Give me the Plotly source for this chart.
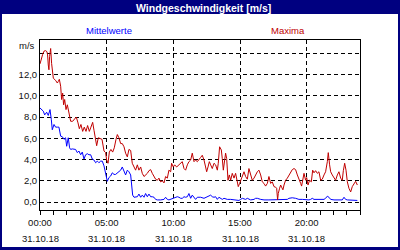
import pandas as pd
import plotly.graph_objects as go

DAY = "2018-10-31"
TITLE = "Windgeschwindigkeit [m/s]"
SERIES_NAMES = ["Mittelwerte", "Maxima"]
Y_TICKS = [0, 2, 4, 6, 8, 10, 12, 14]
Y_TICK_LABELS = ["0,0", "2,0", "4,0", "6,0", "8,0", "10,0", "12,0", ""]
X_TICK_HOURS = [0, 5, 10, 15, 20]
X_DATE_LABEL = "31.10.18"

# Maxima (red): hours since midnight, m/s
max_hours = [0.00, 0.10, 0.20, 0.30, 0.42, 0.52, 0.57, 0.62, 0.67, 0.72, 0.80, 0.87, 0.92, 1.00, 1.17, 1.30,
             1.37, 1.45, 1.55, 1.62, 1.70, 1.77, 1.85, 1.95, 2.05, 2.12, 2.22, 2.30, 2.45, 2.57, 2.72, 2.85,
             2.95, 3.07, 3.20, 3.32, 3.45, 3.57, 3.70, 3.82, 3.95, 4.05, 4.15, 4.25, 4.37, 4.50, 4.65, 4.80,
             4.92, 5.00, 5.10, 5.20, 5.32, 5.45, 5.57, 5.70, 5.80, 5.92, 6.05, 6.17, 6.30, 6.42, 6.55, 6.67,
             6.80, 6.92, 7.05, 7.17, 7.30, 7.42, 7.55, 7.67, 7.80, 7.92, 8.05, 8.17, 8.30, 8.42, 8.55, 8.67,
             8.80, 8.92, 9.05, 9.17, 9.30, 9.42, 9.55, 9.67, 9.80, 9.87, 10.00, 10.10, 10.25, 10.42, 10.55, 10.67,
             10.80, 10.92, 11.05, 11.17, 11.30, 11.42, 11.55, 11.67, 11.80, 11.92, 12.05, 12.17, 12.30, 12.42, 12.50, 12.60,
             12.70, 12.80, 12.92, 13.05, 13.17, 13.30, 13.37, 13.47, 13.60, 13.67, 13.75, 13.85, 13.92, 14.00, 14.10, 14.20,
             14.30, 14.42, 14.55, 14.67, 14.80, 14.87, 14.97, 15.05, 15.17, 15.30, 15.42, 15.55, 15.67, 15.80, 15.92, 16.05,
             16.17, 16.30, 16.42, 16.55, 16.67, 16.80, 16.92, 17.05, 17.17, 17.30, 17.42, 17.55, 17.67, 17.75, 17.82, 17.87,
             17.97, 18.05, 18.12, 18.22, 18.30, 18.42, 18.55, 18.67, 18.80, 18.92, 19.05, 19.17, 19.30, 19.42, 19.55, 19.62,
             19.72, 19.80, 19.92, 20.00, 20.10, 20.22, 20.35, 20.45, 20.55, 20.67, 20.80, 20.92, 21.05, 21.17, 21.30, 21.42,
             21.55, 21.62, 21.72, 21.80, 21.92, 22.05, 22.17, 22.30, 22.42, 22.55, 22.67, 22.75, 22.85, 22.95, 23.05, 23.17,
             23.30, 23.42, 23.55, 23.67, 23.80]
max_values = [13.0, 13.5, 13.9, 14.2, 14.25, 14.15, 13.85, 12.9, 12.45, 13.7, 14.45, 13.05, 12.1, 11.65, 11.45, 11.2,
              11.35, 11.55, 10.9, 9.65, 10.25, 9.15, 9.65, 8.7, 9.15, 8.7, 8.05, 7.6, 7.6, 7.8, 8.0, 7.45,
              6.9, 7.3, 6.65, 7.05, 6.65, 7.2, 6.65, 7.05, 7.5, 6.75, 5.9, 5.3, 6.05, 5.95, 5.9, 4.8,
              4.65, 3.95, 3.65, 4.7, 4.95, 4.7, 5.1, 5.9, 6.35, 6.05, 5.5, 5.5, 5.2, 4.6, 4.25, 4.95,
              4.85, 3.65, 3.3, 3.0, 3.5, 3.0, 3.3, 2.7, 2.4, 2.55, 2.7, 2.95, 3.05, 2.7, 2.4, 2.15,
              2.05, 2.25, 1.9, 2.0, 1.8, 2.4, 2.25, 3.0, 2.85, 3.65, 3.3, 3.5, 3.3, 3.5, 3.65, 3.8,
              3.15, 3.0, 3.5, 3.8, 3.95, 4.6, 3.8, 3.95, 3.8, 3.95, 4.2, 4.4, 3.95, 3.3, 2.85, 3.3,
              3.8, 3.5, 3.15, 3.65, 3.5, 3.0, 3.65, 5.2, 4.9, 4.1, 3.0, 3.95, 4.6, 4.1, 2.05, 2.55,
              2.05, 2.7, 2.25, 2.7, 1.9, 1.45, 1.75, 2.05, 2.55, 2.85, 2.4, 2.15, 3.15, 2.55, 2.05, 2.25,
              2.55, 2.85, 3.0, 2.55, 1.9, 1.75, 1.5, 1.75, 2.4, 1.75, 1.9, 1.45, 1.4, 1.3, 0.2, 0.8,
              1.3, 1.6, 1.4, 1.15, 1.6, 2.05, 2.25, 2.55, 2.85, 3.05, 3.15, 3.05, 2.55, 2.05, 1.75, 1.5,
              2.25, 2.7, 2.05, 2.3, 1.6, 2.05, 1.9, 3.0, 2.75, 2.95, 2.7, 2.85, 2.05, 2.15, 2.55, 2.85,
              3.8, 4.65, 3.5, 2.85, 2.55, 2.25, 2.05, 2.55, 2.85, 2.25, 2.05, 2.95, 3.65, 3.0, 1.9, 1.3,
              0.95, 1.45, 1.75, 1.95, 1.6]

# Mittelwerte (blue): hours since midnight, m/s
mean_hours = [0.00, 0.10, 0.25, 0.35, 0.50, 0.62, 0.75, 0.85, 0.92, 1.05, 1.17, 1.30, 1.42, 1.55, 1.67, 1.80,
              1.92, 2.00, 2.12, 2.22, 2.30, 2.42, 2.55, 2.67, 2.80, 2.92, 3.05, 3.17, 3.30, 3.42, 3.55, 3.67,
              3.80, 3.92, 4.05, 4.17, 4.30, 4.42, 4.55, 4.67, 4.80, 4.92, 5.05, 5.17, 5.30, 5.42, 5.55, 5.67,
              5.80, 5.92, 6.05, 6.17, 6.30, 6.42, 6.55, 6.67, 6.80, 6.87, 6.95, 7.05, 7.17, 7.30, 7.42, 7.55,
              7.67, 7.80, 7.92, 8.05, 8.17, 8.30, 8.42, 8.55, 8.67, 8.80, 9.05, 9.30, 9.42, 9.55, 9.67, 9.80,
              9.92, 10.05, 10.17, 10.30, 10.42, 10.55, 10.67, 10.80, 10.92, 11.05, 11.17, 11.30, 11.42, 11.55, 11.67, 11.80,
              12.05, 12.30, 12.55, 12.80, 12.92, 13.05, 13.17, 13.30, 13.42, 13.55, 13.67, 13.80, 14.05, 14.30, 14.55, 14.80,
              14.92, 15.05, 15.17, 15.42, 15.55, 15.80, 16.05, 16.17, 16.30, 16.55, 16.80, 17.17, 17.55, 17.80, 18.05, 18.30,
              18.55, 18.67, 18.92, 19.17, 19.42, 19.67, 19.92, 20.17, 20.30, 20.42, 20.55, 20.80, 21.05, 21.30, 21.42, 21.55,
              21.67, 21.80, 22.05, 22.30, 22.55, 22.67, 22.80, 22.92, 23.05, 23.30, 23.55, 23.80]
mean_values = [8.85, 8.7, 8.55, 8.2, 8.45, 8.15, 8.7, 7.75, 6.8, 7.3, 7.05, 7.05, 7.05, 6.2, 6.15, 5.9,
               6.05, 5.25, 6.05, 5.1, 4.95, 5.0, 4.95, 4.95, 4.65, 4.8, 4.45, 4.7, 4.05, 4.45, 4.55, 4.45,
               4.45, 4.05, 3.95, 3.7, 3.85, 3.7, 3.85, 3.85, 3.4, 2.75, 1.95, 2.3, 2.45, 2.75, 2.6, 2.6,
               2.75, 2.8, 3.0, 3.3, 2.95, 2.55, 3.0, 2.85, 2.55, 1.45, 0.65, 0.45, 0.5, 0.5, 0.75, 0.45,
               0.65, 0.45, 0.8, 0.5, 0.75, 0.5, 0.5, 0.45, 0.25, 0.2, 0.2, 0.25, 0.45, 0.25, 0.2, 0.25,
               0.35, 0.4, 0.45, 0.5, 0.45, 0.35, 0.35, 0.5, 0.45, 0.5, 0.8, 0.35, 0.65, 0.45, 0.25, 0.45,
               0.45, 0.35, 0.5, 0.65, 0.5, 0.45, 0.5, 0.25, 0.45, 0.35, 0.25, 0.35, 0.25, 0.25, 0.2, 0.2,
               0.15, 0.25, 0.35, 0.25, 0.35, 0.2, 0.25, 0.35, 0.35, 0.25, 0.2, 0.2, 0.2, 0.2, 0.2, 0.2,
               0.25, 0.35, 0.4, 0.35, 0.25, 0.25, 0.2, 0.2, 0.25, 0.35, 0.25, 0.25, 0.2, 0.25, 0.35, 0.55,
               0.45, 0.25, 0.2, 0.2, 0.25, 0.2, 0.45, 0.25, 0.2, 0.2, 0.2, 0.15]

base = pd.Timestamp(DAY)
to_time = lambda hrs: [base + pd.Timedelta(hours=h) for h in hrs]

NAVY = "#000080"
BLUE = "#0000ff"
RED = "#c00000"
FONT = "Liberation Sans"
TXT = "#111111"

fig = go.Figure()
fig.add_trace(go.Scatter(x=to_time(mean_hours), y=mean_values, mode="lines",
                         line=dict(color=BLUE, width=1), name=SERIES_NAMES[0]))
fig.add_trace(go.Scatter(x=to_time(max_hours), y=max_values, mode="lines",
                         line=dict(color=RED, width=1), name=SERIES_NAMES[1]))

tick_times = to_time(X_TICK_HOURS)

fig.update_layout(
    width=400, height=250,
    margin=dict(l=40, r=40, t=40, b=40),
    paper_bgcolor="white", plot_bgcolor="white",
    showlegend=False,
    font=dict(family=FONT, size=9.5, color=TXT),
    xaxis=dict(
        type="date", range=[base, base + pd.Timedelta(hours=24)],
        tickvals=tick_times, tickformat="%H:%M",
        ticks="outside", ticklen=4, tickcolor="black", tickwidth=1,
        minor=dict(dtick=3600000, tick0=base, ticks="outside", ticklen=4, tickcolor="black", showgrid=False),
        showgrid=True, gridcolor="black", gridwidth=1, griddash="4px,3px",
        showline=True, linecolor="black", linewidth=1, mirror=True,
        zeroline=False, tickfont=dict(family=FONT, size=9.5, color=TXT),
    ),
    yaxis=dict(
        range=[-0.75, 15.25], tickvals=Y_TICKS, ticktext=Y_TICK_LABELS,
        showgrid=True, gridcolor="black", gridwidth=1, griddash="4px,3px",
        showline=True, linecolor="black", linewidth=1, mirror=True,
        zeroline=False, ticks="", tickfont=dict(family=FONT, size=9.5, color=TXT),
    ),
)

shapes = [
    dict(type="rect", xref="paper", yref="paper", x0=-0.125, x1=1.125, y0=(210 - 14) / 170, y1=1.24,
         fillcolor=NAVY, line=dict(width=0), layer="above"),
    dict(type="rect", xref="paper", yref="paper", x0=-0.13, x1=-0.11875, y0=-0.24, y1=1.24,
         fillcolor=NAVY, line=dict(width=0), layer="above"),
    dict(type="rect", xref="paper", yref="paper", x0=1.11875, x1=1.13, y0=-0.24, y1=1.24,
         fillcolor=NAVY, line=dict(width=0), layer="above"),
    dict(type="rect", xref="paper", yref="paper", x0=-0.13, x1=1.13, y0=-0.24, y1=(210 - 247) / 170,
         fillcolor=NAVY, line=dict(width=0), layer="above"),
]
fig.update_layout(shapes=shapes)

ann = [
    dict(text=TITLE, xref="paper", yref="paper", x=(203 - 40) / 320, y=(210 - 7.5) / 170,
         showarrow=False, xanchor="center", yanchor="middle",
         font=dict(family=FONT, size=10.5, color="white", weight="bold")),
    dict(text=SERIES_NAMES[0], xref="paper", yref="paper", x=(109 - 40) / 320, y=(210 - 31) / 170,
         showarrow=False, xanchor="center", yanchor="middle", font=dict(family=FONT, size=9.5, color=BLUE)),
    dict(text=SERIES_NAMES[1], xref="paper", yref="paper", x=(288 - 40) / 320, y=(210 - 31) / 170,
         showarrow=False, xanchor="center", yanchor="middle", font=dict(family=FONT, size=9.5, color=RED)),
    dict(text="m/s", xref="paper", yref="paper", x=(37 - 40) / 320, y=(210 - 45) / 170,
         showarrow=False, xanchor="right", yanchor="middle", font=dict(family=FONT, size=9.5, color=TXT)),
]
for t in tick_times:
    ann.append(dict(text=X_DATE_LABEL, xref="x", yref="paper", x=t, y=(210 - 238) / 170,
                    showarrow=False, xanchor="center", yanchor="middle",
                    font=dict(family=FONT, size=9.5, color=TXT)))
fig.update_layout(annotations=ann)

fig.write_html("out.html")
